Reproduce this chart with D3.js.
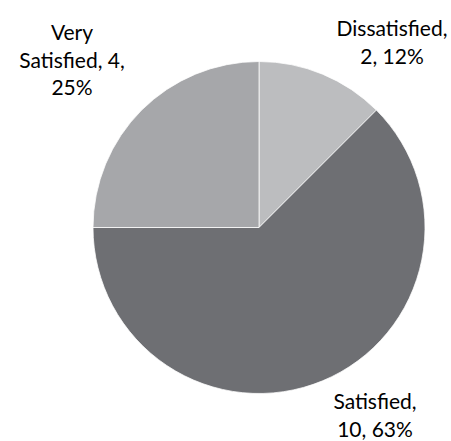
<!DOCTYPE html>
<html>
<head>
<meta charset="utf-8">
<script src="https://cdn.jsdelivr.net/npm/d3@7"></script>
<style>
  html, body { margin: 0; padding: 0; background: #fff; }
  text { font-family: Lato, "Open Sans", sans-serif; fill: #000; }
</style>
</head>
<body>
<svg id="chart" width="451" height="441"></svg>
<script>
// Survey responses
const categories = ["Dissatisfied", "Satisfied", "Very Satisfied"];
const counts = [2, 10, 4];
const percentLabels = ["12%", "63%", "25%"];

const colors = ["#bcbdbf", "#6e6f73", "#a6a7aa"];

const width = 451, height = 441;
const cx = 259, cy = 227.5, radius = 166;

// Label block centres (x, y of first baseline) and line breaks per slice
const labelLayout = [
  { x: 392, y: 36, lines: d => [d.cat + ",", d.val + ", " + d.pct] },
  { x: 375, y: 409, lines: d => [d.cat + ",", d.val + ", " + d.pct] },
  { x: 72, y: 40, lines: d => ["Very", "Satisfied, " + d.val + ",", d.pct] }
];

const svg = d3.select("#chart");
const g = svg.append("g").attr("transform", `translate(${cx},${cy})`);

const data = categories.map((c, i) => ({ cat: c, val: counts[i], pct: percentLabels[i], i }));

const pie = d3.pie().value(d => d.val).sort(null);
const arc = d3.arc().innerRadius(0).outerRadius(radius);

g.selectAll("path.slice")
  .data(pie(data))
  .join("path")
  .attr("class", "slice")
  .attr("d", arc)
  .attr("fill", d => colors[d.data.i])
  .attr("stroke", "#ffffff")
  .attr("stroke-width", 0.75);

const lineH = 27.5;
data.forEach((d, i) => {
  const L = labelLayout[i];
  const t = svg.append("text")
    .attr("text-anchor", "middle")
    .attr("font-size", 21);
  L.lines(d).forEach((ln, k) => {
    t.append("tspan").attr("x", L.x).attr("y", L.y + k * lineH).text(ln);
  });
});
</script>
</body>
</html>
